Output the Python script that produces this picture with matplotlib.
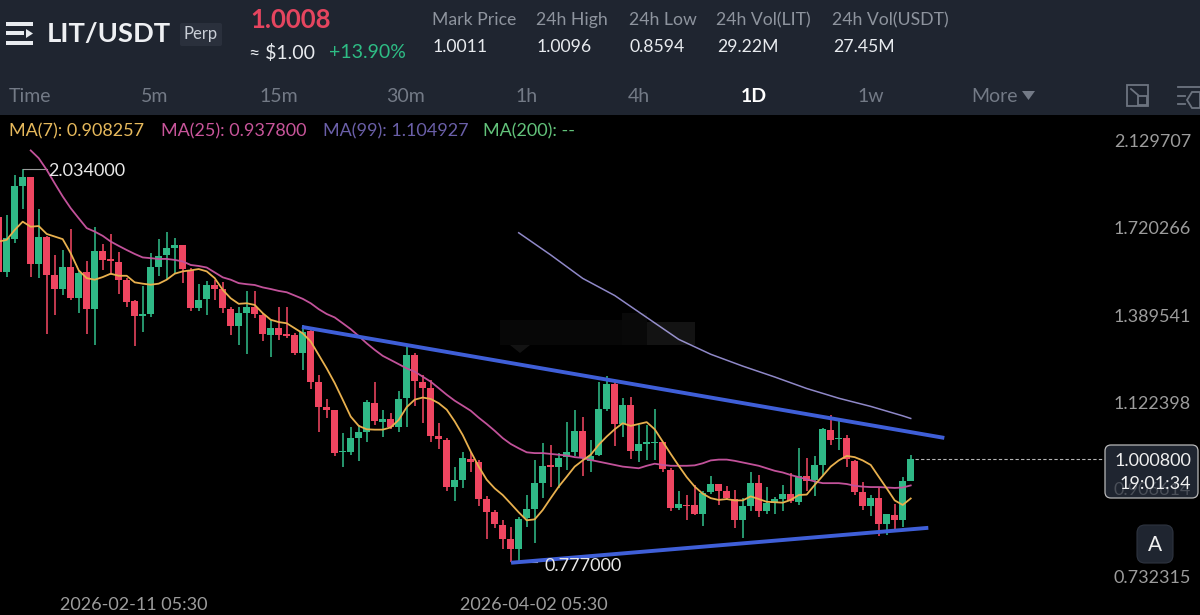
import numpy as np
import matplotlib
matplotlib.use('Agg')
import matplotlib.pyplot as plt
from matplotlib.patches import Rectangle, FancyBboxPatch, Polygon

plt.rcParams['font.family'] = ['Lato', 'DejaVu Sans']

# daily candles, oldest first
opens = [1.811,1.580,1.714,1.952,1.998,1.613,1.725,1.571,1.517,1.600,1.483,1.580,1.446,1.665,1.632,1.621,1.549,1.473,1.420,1.427,
         1.600,1.647,1.677,1.690,1.590,1.449,1.479,1.533,1.517,1.446,1.386,1.432,1.453,1.424,1.357,1.378,1.358,1.356,1.296,1.370,
         1.207,1.136,1.127,1.017,1.017,1.052,1.070,1.147,1.096,1.103,1.081,1.162,1.292,1.208,1.190,1.059,1.047,.935,.951,1.000,
         .992,.907,.879,.852,.822,.802,.865,.886,.944,.985,.980,1.005,1.019,1.072,.995,1.011,1.130,1.201,1.090,1.141,
         1.021,1.039,1.041,1.042,.974,.888,.894,.893,.875,.922,.941,.924,.907,.861,.892,.944,.880,.899,.907,.919,
         .901,.960,.951,.986,1.075,1.050,1.054,.996,.922,.892,.909,.854,.873,.861,.949]
highs = [1.820,1.819,2.006,2.034,1.998,1.844,1.728,1.649,1.669,1.756,1.584,1.623,1.765,1.694,1.736,1.661,1.558,1.477,1.529,1.658,
         1.714,1.745,1.718,1.690,1.597,1.535,1.548,1.549,1.545,1.453,1.451,1.510,1.510,1.430,1.407,1.453,1.451,1.362,1.390,1.378,
         1.229,1.159,1.129,1.066,1.083,1.088,1.157,1.208,1.129,1.119,1.183,1.323,1.296,1.229,1.215,1.092,1.053,.980,1.017,1.019,
         .998,.913,.884,.862,.847,.869,.916,.997,1.040,1.036,1.015,1.096,1.129,1.108,1.047,1.207,1.226,1.207,1.161,1.164,
         1.088,1.088,1.130,1.044,.978,.924,.916,.939,.924,.960,.941,.937,.928,.909,.970,.962,.934,.911,.939,.966,
         1.027,1.003,1.007,1.079,1.115,1.097,1.061,.999,.946,.916,.931,.875,.896,.957,1.0096]
lows = [1.560,1.562,1.700,1.844,1.562,1.557,1.358,1.424,1.495,1.475,1.430,1.358,1.323,1.588,1.571,1.498,1.451,1.318,1.367,1.415,
        1.567,1.549,1.577,1.539,1.436,1.439,1.424,1.475,1.432,1.357,1.323,1.295,1.412,1.337,1.284,1.339,1.345,1.291,1.244,1.187,
        1.068,1.106,1.008,.982,1.011,.995,1.042,1.088,1.055,1.076,1.068,1.083,1.140,1.094,1.044,1.025,.924,.902,.933,.970,
        .892,.822,.845,.802,.777,.780,.847,.814,.909,.935,.933,.974,1.008,.960,.968,1.007,1.124,1.034,1.057,1.000,
        .994,.997,.997,.970,.881,.884,.862,.873,.850,.919,.894,.904,.844,.825,.880,.867,.875,.875,.880,.898,
        .894,.926,.914,.962,1.036,1.023,.980,.916,.884,.871,.828,.831,.840,.848,.947]
closes = [1.580,1.718,1.952,1.994,1.613,1.722,1.571,1.517,1.600,1.483,1.577,1.444,1.665,1.629,1.624,1.549,1.471,1.420,1.427,1.600,
          1.646,1.677,1.689,1.593,1.447,1.477,1.533,1.517,1.447,1.386,1.430,1.453,1.427,1.358,1.378,1.357,1.352,1.296,1.367,1.208,
          1.136,1.127,1.015,1.020,1.052,1.068,1.149,1.097,1.103,1.081,1.159,1.292,1.210,1.190,1.059,1.050,.935,.951,1.002,.992,
          .907,.879,.854,.822,.802,.864,.885,.943,.984,.981,1.003,1.019,1.072,1.003,1.008,1.130,1.201,1.090,1.141,1.021,
          1.038,1.042,1.044,.976,.887,.895,.892,.875,.920,.941,.924,.909,.861,.892,.944,.880,.898,.907,.919,.902,
          .960,.949,.986,1.076,1.049,1.054,1.000,.922,.892,.910,.854,.874,.861,.949,1.0008]

ma7 = [1.704,1.711,1.753,1.789,1.767,1.770,1.736,1.725,1.714,1.656,1.588,1.558,1.552,1.562,1.575,1.567,1.567,1.542,1.537,1.533,
       1.537,1.552,1.575,1.584,1.588,1.593,1.584,1.558,1.514,1.483,1.463,1.465,1.459,1.430,1.407,1.399,1.395,1.378,1.361,1.334,
       1.291,1.249,1.205,1.157,1.110,1.085,1.076,1.075,1.075,1.081,1.101,1.136,1.157,1.163,1.159,1.147,1.129,1.097,1.061,1.019,
       .982,.951,.931,.916,.897,.878,.861,.863,.883,.909,.935,.958,.982,.997,1.011,1.036,1.057,1.076,1.092,1.085,
       1.090,1.095,1.076,1.044,1.013,.984,.957,.935,.919,.909,.905,.907,.904,.904,.913,.907,.901,.900,.899,.905,
       .916,.917,.939,.960,.982,.997,1.008,1.005,.997,.986,.958,.931,.904,.894,.908257]
# MA(25) starts at the 5th candle
ma25 = [2.130,2.090,2.031,1.965,1.903,1.849,1.804,1.761,1.746,1.728,1.704,1.686,1.669,1.653,1.639,1.636,
        1.633,1.633,1.629,1.623,1.609,1.605,1.599,1.580,1.561,1.552,1.539,1.535,1.532,1.523,1.517,1.510,1.505,1.493,1.481,1.465,
        1.444,1.427,1.415,1.395,1.375,1.352,1.328,1.307,1.288,1.275,1.262,1.249,1.239,1.224,1.209,1.190,1.171,1.154,1.140,1.126,
        1.107,1.090,1.072,1.053,1.038,1.027,1.017,1.015,1.015,1.013,1.011,1.009,1.005,1.003,.998,.994,.990,.986,.982,.980,
        .978,.984,.989,.986,.984,.984,.984,.985,.990,.997,.999,.999,.996,.992,.988,.984,.978,.972,.968,.962,
        .957,.952,.947,.943,.943,.943,.941,.937,.935,.934,.934,.933,.932,.933,.937800]
# MA(99) read every 4 candles
ma99_idx = [65,69,73,77,81,85,89,93,97,101,105,109,113,114]
ma99 = [1.741,1.649,1.557,1.493,1.415,1.341,1.293,1.256,1.223,1.189,1.161,1.138,1.112,1.104927]

y_ticks = [2.129707, 1.720266, 1.389541, 1.122398, 0.732315]
y_labels = ['2.129707', '1.720266', '1.389541', '1.122398', '0.732315']
date_idx = [17, 67]
date_labels = ['2026-02-11 05:30', '2026-04-02 05:30']
tabs = ['Time', '5m', '15m', '30m', '1h', '4h', '1D', '1w', 'More']
stats = ['Mark Price', '24h High', '24h Low', '24h Vol(LIT)', '24h Vol(USDT)']
stat_values = ['1.0011', '1.0096', '0.8594', '29.22M', '27.45M']

# hand-drawn trend lines, as (candle index, price)
upper_line = ([37.9, 118.2], [1.3825, 1.0535])
lower_line = ([64.05, 116.2], [0.776, 0.8453])

GREEN = '#2fb886'
RED = '#ee4560'
PANEL = '#1f2530'

fig = plt.figure(figsize=(12, 6.15), dpi=100, facecolor='black')

# chart area, log price scale
ax = fig.add_axes([0, 0, 1, 500 / 615], facecolor='black', zorder=1)
ax.set_yscale('log')
ax.set_xlim(0.1625, 150.16)
ax.set_ylim(0.6828, 2.323)
ax.axis('off')

x = np.arange(len(closes))
o = np.array(opens)
c = np.array(closes)
up = c >= o
colors = [GREEN if u else RED for u in up]
ax.vlines(x, lows, highs, colors=colors, linewidth=1.15, zorder=2)
ax.bar(x, np.abs(c - o), bottom=np.minimum(o, c), width=0.86, color=colors, linewidth=0, zorder=3)

ax.plot(x, ma7, color='#e8b04e', lw=1.3, zorder=5)
ax.plot(x[4:], ma25, color='#c2529a', lw=1.3, zorder=4)
ax.plot(ma99_idx, ma99, color='#8f88c8', lw=1.1, zorder=4)

ax.plot(upper_line[0], upper_line[1], color='#3f5fd8', lw=2.8, solid_capstyle='butt', zorder=6)
ax.plot(lower_line[0], lower_line[1], color='#3f5fd8', lw=2.8, solid_capstyle='butt', zorder=6)

# high / low markers
hi_x, lo_x = 3, 64
ax.plot([hi_x, hi_x + 3], [2.034, 2.034], color='#9a9a9a', lw=0.8, zorder=2)
ax.plot([lo_x, lo_x + 3.3], [0.777, 0.777], color='#bbbbbb', lw=0.8, zorder=2)
ax.annotate('2.034000', xy=(hi_x + 3, 2.034), xytext=(1, -1), textcoords='offset points',
            color='#e8e8e8', fontsize=13, va='center', zorder=7)
ax.annotate('0.777000', xy=(lo_x + 3.3, 0.777), xytext=(5, -2.5), textcoords='offset points',
            color='#e8e8e8', fontsize=13, va='center', zorder=7)

# last price line
ax.plot([x[-1] + 0.5, 138.2], [closes[-1], closes[-1]], color='#b5b5b5', lw=0.8, ls=(0, (3, 2)), zorder=2)

for v, lab in zip(y_ticks, y_labels):
    ax.annotate(lab, xy=(1, v), xycoords=('axes fraction', 'data'), xytext=(-6.5, 6),
                textcoords='offset points', ha='right', va='center', color='#9c9c9c', fontsize=13)
for d, lab in zip(date_idx, date_labels):
    ax.annotate(lab, xy=(d, 0), xycoords=('data', 'axes fraction'), xytext=(-0.5, 7.5),
                textcoords='offset points', ha='center', va='center', color='#9c9c9c', fontsize=13)

# everything else sits on a pixel overlay
ui = fig.add_axes([0, 0, 1, 1], zorder=3)
ui.set_xlim(0, 1200)
ui.set_ylim(615, 0)
ui.axis('off')
ui.patch.set_alpha(0)

ui.add_patch(Rectangle((0, 0), 1200, 115, color=PANEL, lw=0))

# smudged-out watermark
ui.add_patch(Rectangle((500, 320), 122, 25, color='white', alpha=0.03, lw=0))
ui.add_patch(Rectangle((622, 313), 25, 32, color='white', alpha=0.04, lw=0))
ui.add_patch(Rectangle((647, 322), 48, 23, color='white', alpha=0.08, lw=0))
ui.add_patch(Polygon([(510, 345), (530, 345), (520, 353)], color='white', alpha=0.08, lw=0))

# menu icon
for yy, xe in [(24, 33), (33, 24), (43, 33)]:
    ui.add_patch(Rectangle((6, yy - 2), xe - 6, 4, color='#e8ebef', lw=0))
ui.add_patch(Polygon([(26, 29), (33, 33.5), (26, 38)], color='#e8ebef', lw=0))

ui.text(47, 34, 'LIT/USDT', color='#eef0f3', fontsize=19.7, va='center', fontweight='bold')
ui.add_patch(FancyBboxPatch((180, 23), 42, 23, boxstyle='round,pad=0,rounding_size=2', fc='#2a303c', ec='none'))
ui.text(201, 34.5, 'Perp', color='#c9ced6', fontsize=12, ha='center', va='center')

ui.text(250, 20, '1.0008', color='#e5455f', fontsize=18.5, va='center', fontweight='bold')
ui.text(249, 53, '≈ $1.00', color='#e8ebef', fontsize=14, va='center')
ui.text(329, 53, '+13.90%', color='#2ebd85', fontsize=14, va='center')

for sx, name, val in zip([432, 536, 629, 716, 832], stats, stat_values):
    ui.text(sx, 20, name, color='#8e949e', fontsize=12.7, va='center')
    ui.text(sx + 1, 47, val, color='#e8ebef', fontsize=12.7, va='center')

for tx, name in zip([9, 141, 259, 386, 515, 628, 741, 857, 971], tabs):
    ui.text(tx, 96, name, color='#ffffff' if name == '1D' else '#737a86', fontsize=14, va='center',
            fontweight='bold' if name == '1D' else 'normal')
ui.add_patch(Polygon([(1022, 91), (1035, 91), (1028.5, 100)], color='#737a86', lw=0))

# expand icon
ui.add_patch(Rectangle((1127, 85), 21, 21, fc='none', ec='#6d7480', lw=1.3))
ui.add_patch(Rectangle((1138, 96), 9, 9, fc=PANEL, ec='#6d7480', lw=1.3))
ui.plot([1131, 1138], [89, 95], color='#6d7480', lw=1.3)
# settings icon
ui.plot([1178, 1200], [87, 87], color='#6d7480', lw=1.3)
ui.plot([1178, 1185], [96, 96], color='#6d7480', lw=1.3)
ui.plot([1178, 1185], [104, 104], color='#6d7480', lw=1.3)
ui.add_patch(Polygon([(1187, 100), (1192, 92), (1200, 92), (1200, 108), (1192, 108)], fc='none', ec='#6d7480', lw=1.3))

# MA legend
ui.text(9, 131, 'MA(7): 0.908257', color='#e6b95c', fontsize=13, va='center')
ui.text(161, 131, 'MA(25): 0.937800', color='#c8559a', fontsize=13, va='center')
ui.text(323, 131, 'MA(99): 1.104927', color='#6a5fa8', fontsize=13, va='center')
ui.text(483, 131, 'MA(200): --', color='#62c27a', fontsize=13, va='center')

# last price tag, the axis label behind it still shows through
ui.add_patch(FancyBboxPatch((1105, 445), 93, 53, boxstyle='round,pad=0,rounding_size=6',
                            fc=PANEL, ec='#b8b8b8', lw=0.9))
ui.text(1191, 490, '0.906614', color='#4a4f58', fontsize=13, ha='right', va='center')
ui.text(1191, 461, '1.000800', color='#f0f0f0', fontsize=13, ha='right', va='center')
ui.text(1191, 484, '19:01:34', color='#f0f0f0', fontsize=13, ha='right', va='center')

ui.add_patch(FancyBboxPatch((1137, 525), 36, 38, boxstyle='round,pad=0,rounding_size=8',
                            fc=PANEL, ec='#2e3440', lw=0.8))
ui.text(1155, 545, 'A', color='#f0f0f0', fontsize=15, ha='center', va='center')

fig.savefig('out.png', dpi=100, facecolor='black')
